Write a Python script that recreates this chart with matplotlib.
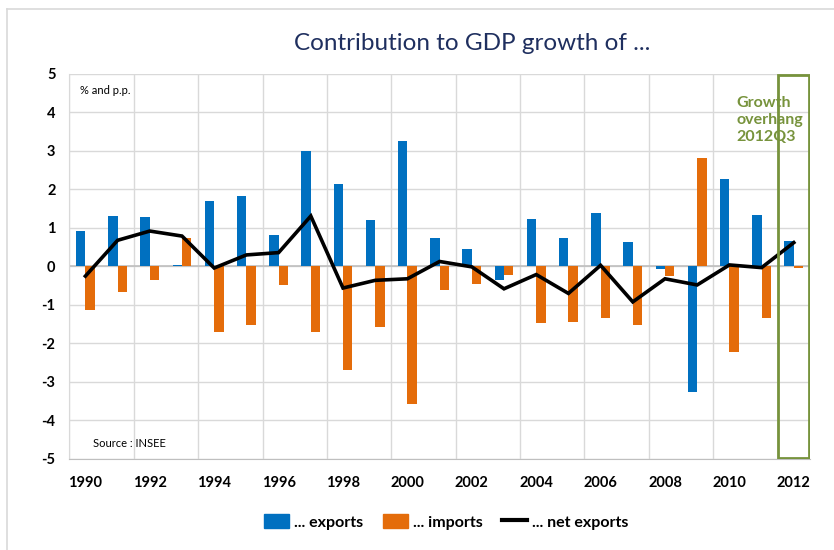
import numpy as np
import matplotlib
matplotlib.use("Agg")
import matplotlib.pyplot as plt
from matplotlib.lines import Line2D
from matplotlib.patches import Patch, Rectangle

plt.rcParams['font.family'] = ['Lato', 'DejaVu Sans']

years = list(range(1990, 2013))
exports = [0.93, 1.32, 1.28, 0.05, 1.70, 1.83, 0.83, 3.00, 2.13, 1.22, 3.26, 0.74,
           0.46, -0.36, 1.23, 0.74, 1.38, 0.63, -0.06, -3.25, 2.26, 1.34, 0.65]
imports = [-1.13, -0.65, -0.36, 0.74, -1.71, -1.51, -0.48, -1.71, -2.68, -1.57, -3.58, -0.62,
           -0.46, -0.21, -1.46, -1.44, -1.35, -1.53, -0.25, 2.81, -2.23, -1.35, -0.04]
net_exports = [-0.25, 0.68, 0.92, 0.79, -0.04, 0.30, 0.36, 1.31, -0.56, -0.36, -0.32, 0.13,
               -0.01, -0.58, -0.21, -0.70, 0.03, -0.92, -0.32, -0.48, 0.04, -0.03, 0.62]
yticks = [5, 4, 3, 2, 1, 0, -1, -2, -3, -4, -5]

blue = '#0070C0'
orange = '#E46C0A'
green = '#77933C'
grid_c = '#D9D9D9'

fig = plt.figure(figsize=(8.34, 5.5), dpi=100)
ax = fig.add_axes([0.0831, 0.1655, 0.888, 0.70])

x = np.arange(len(years))
w = 0.29
ax.bar(x - w / 2, exports, w, color=blue, zorder=3)
ax.bar(x + w / 2, imports, w, color=orange, zorder=3)
ax.plot(x, net_exports, color='black', lw=2.6, zorder=4, solid_joinstyle='miter')

ax.set_xlim(-0.5, len(years) - 0.5)
ax.set_ylim(-5, 5)

# grid
for yv in yticks:
    ax.axhline(yv, color=grid_c, lw=1, zorder=1)
ax.axhline(0, color='#BFBFBF', lw=1.2, zorder=2)
for xv in np.arange(-0.5, len(years) - 0.5, 2):
    ax.axvline(xv, color=grid_c, lw=1, zorder=1)

for s in ax.spines.values():
    s.set_visible(False)
ax.spines['bottom'].set_visible(True)
ax.spines['bottom'].set_color('#BFBFBF')
ax.spines['left'].set_visible(True)
ax.spines['left'].set_color(grid_c)

ax.set_yticks(yticks)
ax.set_yticklabels([str(v) for v in yticks], fontsize=10.5, fontweight='bold')
ax.set_xticks(x[::2])
ax.set_xticklabels([str(y) for y in years[::2]], fontsize=10.5, fontweight='bold')
ax.tick_params(axis='x', length=0, pad=12)
ax.tick_params(axis='y', length=0, pad=10)

# growth overhang box
ax.add_patch(Rectangle((len(years) - 1.5, -4.97), 0.97, 9.94, fill=False,
                       edgecolor=green, lw=2, zorder=5))
ax.text(len(years) - 2.78, 4.42, 'Growth\noverhang\n2012Q3', color=green, fontsize=11.5,
        fontweight='bold', va='top', ha='left', linespacing=1.28, zorder=6)

ax.text(0.015, 0.972, '% and p.p.', transform=ax.transAxes, fontsize=8,
        va='top', ha='left')
ax.text(0.032, 0.04, 'Source : INSEE', transform=ax.transAxes, fontsize=8,
        va='center', ha='left')

fig.text(0.566, 0.92, 'Contribution to GDP growth of ...', fontsize=17.5,
         color='#1F2F5F', ha='center', va='center')

handles = [Patch(color=blue, label='... exports'),
           Patch(color=orange, label='... imports'),
           Line2D([0], [0], color='black', lw=3, label='... net exports')]
fig.legend(handles=handles, loc='center', bbox_to_anchor=(0.535, 0.051), ncol=3,
           frameon=False, prop={'size': 11.5, 'weight': 'bold'},
           handlelength=1.6, handleheight=0.9, handletextpad=0.3, columnspacing=1.2)

# outer chart border
fig.add_artist(Line2D([0.0084, 0.0084], [0.0, 0.984], color='#D9D9D9', lw=1.2,
                      transform=fig.transFigure))
fig.add_artist(Line2D([0.0084, 1.0], [0.984, 0.984], color='#D9D9D9', lw=1.2,
                      transform=fig.transFigure))

fig.savefig('out.png', dpi=100)
